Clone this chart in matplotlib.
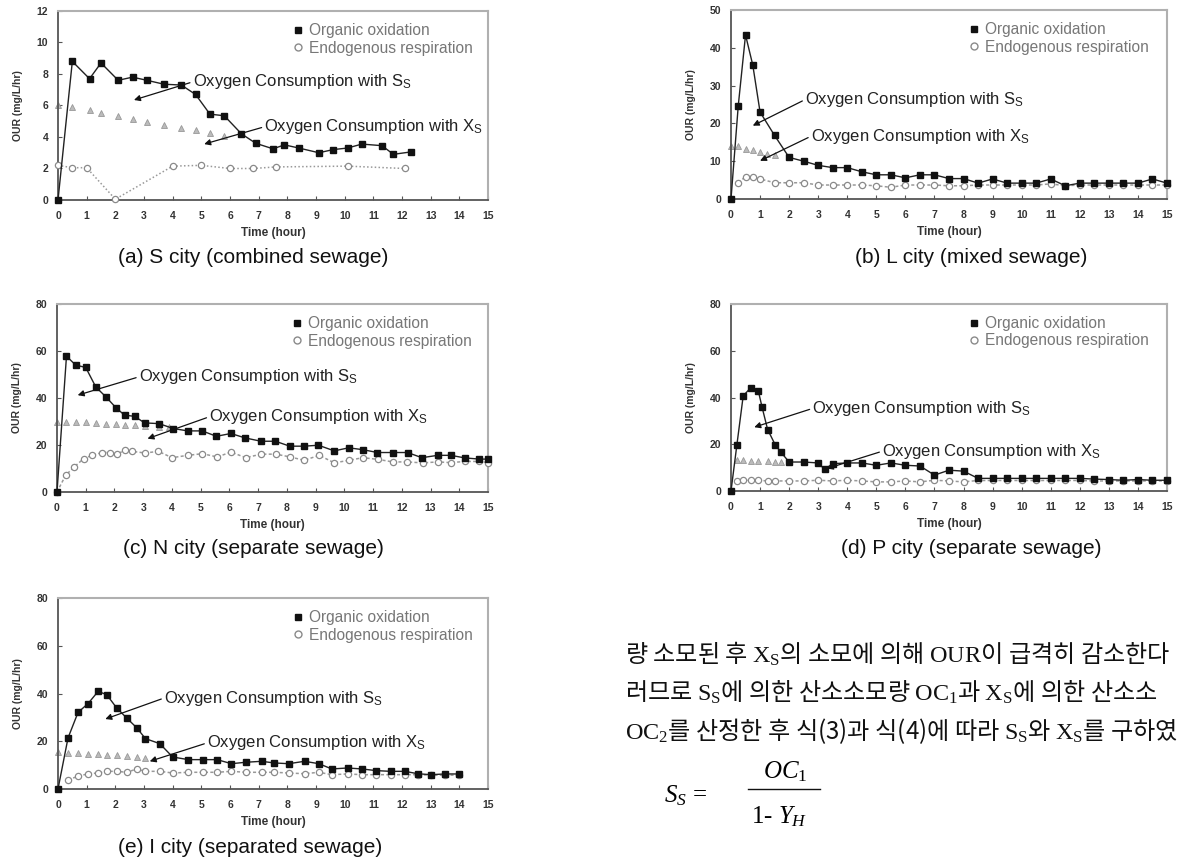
import matplotlib
matplotlib.use("Agg")
from matplotlib import pyplot
from matplotlib.lines import Line2D

pyplot.rcParams['font.family'] = ['Liberation Sans', 'DejaVu Sans']
pyplot.rcParams['mathtext.fontset'] = 'custom'
pyplot.rcParams['mathtext.rm'] = 'Liberation Serif'
pyplot.rcParams['mathtext.it'] = 'Liberation Serif:italic'
pyplot.rcParams['mathtext.bf'] = 'Liberation Serif:bold'
pyplot.rcParams['mathtext.sf'] = 'Liberation Sans'

W, H = 1177, 863

# ---- data: (a) S city ----
a_org_t = [0, 0.5, 1.1, 1.5, 2.1, 2.6, 3.1, 3.7, 4.3, 4.8, 5.3, 5.8, 6.4, 6.9,
           7.5, 7.9, 8.4, 9.1, 9.6, 10.1, 10.6, 11.3, 11.7, 12.3]
a_org = [0, 8.8, 7.7, 8.7, 7.6, 7.8, 7.6, 7.35, 7.3, 6.7, 5.45, 5.35, 4.2, 3.6,
         3.25, 3.5, 3.3, 3.0, 3.2, 3.3, 3.55, 3.45, 2.9, 3.05]
a_end_t = [0, 0.5, 1.0, 2.0, 4.0, 5.0, 6.0, 6.8, 7.6, 10.1, 12.1]
a_end = [2.2, 2.05, 2.05, 0.05, 2.15, 2.2, 2.0, 2.0, 2.1, 2.15, 2.0]
a_tri_t = [0, 0.5, 1.1, 1.5, 2.1, 2.6, 3.1, 3.7, 4.3, 4.8, 5.3, 5.8]
a_tri = [6.0, 5.9, 5.7, 5.55, 5.35, 5.15, 4.95, 4.75, 4.55, 4.45, 4.25, 4.05]

# ---- (b) L city ----
b_org_t = [0, 0.25, 0.5, 0.75, 1.0, 1.5, 2.0, 2.5, 3.0, 3.5, 4.0, 4.5, 5.0, 5.5,
           6.0, 6.5, 7.0, 7.5, 8.0, 8.5, 9.0, 9.5, 10.0, 10.5, 11.0, 11.5, 12.0,
           12.5, 13.0, 13.5, 14.0, 14.5, 15.0]
b_org = [0, 24.7, 43.4, 35.4, 23.0, 16.8, 11.0, 10.0, 8.9, 8.3, 8.3, 7.2, 6.4, 6.4,
         5.6, 6.4, 6.4, 5.4, 5.4, 4.2, 5.3, 4.2, 4.2, 4.2, 5.3, 3.5, 4.2,
         4.2, 4.2, 4.2, 4.2, 5.3, 4.2]
b_end_t = [0.25, 0.5, 0.75, 1.0, 1.5, 2.0, 2.5, 3.0, 3.5, 4.0, 4.5, 5.0, 5.5,
           6.0, 6.5, 7.0, 7.5, 8.0, 8.5, 9.0, 9.5, 10.0, 10.5, 11.0, 11.5, 12.0,
           12.5, 13.0, 13.5, 14.0, 14.5, 15.0]
b_end = [4.3, 5.9, 5.9, 5.3, 4.3, 4.3, 4.3, 3.7, 3.7, 3.7, 3.7, 3.5, 3.1,
         3.7, 3.7, 3.7, 3.5, 3.5, 3.7, 3.7, 3.7, 3.7, 3.7, 4.0, 3.5, 3.7,
         3.7, 3.7, 3.7, 3.7, 3.7, 3.7]
b_tri_t = [0, 0.25, 0.5, 0.75, 1.0, 1.25, 1.5]
b_tri = [13.9, 13.9, 13.3, 13.0, 12.4, 12.0, 11.6]

# ---- (c) N city ----
c_org_t = [0, 0.33, 0.65, 1.0, 1.35, 1.7, 2.05, 2.35, 2.7, 3.05, 3.55, 4.05, 4.55,
           5.05, 5.55, 6.05, 6.55, 7.1, 7.6, 8.1, 8.6, 9.1, 9.65, 10.15, 10.65,
           11.15, 11.7, 12.2, 12.7, 13.25, 13.7, 14.2, 14.7, 15.0]
c_org = [0, 57.8, 54, 53, 44.7, 40.5, 35.9, 32.7, 32.2, 29.4, 29.1, 27.0, 26.0,
         26.0, 23.7, 24.9, 23.0, 21.6, 21.6, 19.5, 19.5, 19.9, 17.5, 18.8, 18.0,
         16.8, 16.8, 16.8, 14.6, 15.6, 15.6, 14.5, 14.0, 14.0]
c_end_t = [0, 0.3, 0.6, 0.93, 1.22, 1.57, 1.84, 2.1, 2.35, 2.6, 3.07, 3.53, 4.0,
           4.55, 5.06, 5.58, 6.05, 6.57, 7.1, 7.62, 8.12, 8.6, 9.13, 9.65, 10.17,
           10.64, 11.16, 11.69, 12.17, 12.73, 13.26, 13.7, 14.2, 14.7, 15.0]
c_end = [0, 7.1, 10.7, 14.2, 15.6, 16.8, 16.8, 16.1, 17.8, 17.3, 16.6, 17.3, 14.6,
         15.6, 16.3, 14.9, 17.0, 14.6, 16.1, 16.1, 14.9, 13.5, 15.6, 12.4, 13.5,
         14.6, 13.9, 12.8, 12.8, 12.4, 12.8, 12.5, 13.0, 13.0, 12.5]
c_tri_t = [0, 0.33, 0.65, 1.0, 1.35, 1.7, 2.05, 2.35, 2.7, 3.05, 3.55, 3.9]
c_tri = [30, 30, 29.8, 29.6, 29.4, 29.1, 28.9, 28.6, 28.3, 28.0, 27.8, 27.5]

# ---- (d) P city ----
d_org_t = [0, 0.2, 0.42, 0.68, 0.94, 1.07, 1.26, 1.52, 1.71, 2.0, 2.5, 3.0, 3.22,
           3.5, 4.0, 4.5, 5.0, 5.5, 6.0, 6.5, 7.0, 7.5, 8.0, 8.5, 9.0, 9.5, 10.0,
           10.5, 11.0, 11.5, 12.0, 12.5, 13.0, 13.5, 14.0, 14.5, 15.0]
d_org = [0, 19.5, 40.7, 44.2, 42.8, 35.8, 26.3, 19.8, 16.7, 12.4, 12.4, 12.0, 9.3,
         11.7, 12.0, 12.0, 11.0, 12.0, 11.0, 10.7, 6.8, 8.9, 8.5, 5.4, 5.4, 5.4, 5.4,
         5.4, 5.4, 5.4, 5.4, 5.1, 4.9, 4.6, 4.9, 4.6, 4.6]
d_end_t = [0.2, 0.42, 0.68, 0.94, 1.26, 1.52, 2.0, 2.5, 3.0, 3.5, 4.0, 4.5, 5.0,
           5.5, 6.0, 6.5, 7.0, 7.5, 8.0, 8.5, 9.0, 9.5, 10.0, 10.5, 11.0, 11.5,
           12.0, 12.5, 13.0, 13.5, 14.0, 14.5, 15.0]
d_end = [4.2, 4.6, 4.6, 4.6, 4.3, 4.3, 4.3, 4.3, 4.6, 4.3, 4.6, 4.3, 3.9,
         3.9, 4.3, 3.9, 4.6, 4.3, 3.9, 4.5, 4.5, 4.5, 4.5, 4.5, 4.5, 4.5,
         4.5, 4.3, 4.3, 4.3, 4.3, 4.3, 4.3]
d_tri_t = [0.2, 0.42, 0.68, 0.94, 1.26, 1.52, 1.71]
d_tri = [13.1, 13.1, 12.9, 12.9, 12.8, 12.6, 12.4]

# ---- (e) I city ----
e_org_t = [0, 0.35, 0.7, 1.05, 1.4, 1.7, 2.05, 2.4, 2.75, 3.05, 3.55, 4.0, 4.55,
           5.05, 5.55, 6.05, 6.55, 7.1, 7.55, 8.05, 8.6, 9.1, 9.55, 10.1, 10.6,
           11.1, 11.6, 12.1, 12.55, 13.0, 13.5, 14.0]
e_org = [0, 21.4, 32.1, 35.8, 40.9, 39.5, 33.9, 29.7, 25.6, 21.1, 19.0, 13.4, 12.3,
         12.3, 12.3, 10.6, 11.2, 11.6, 10.9, 10.6, 11.6, 10.6, 8.4, 8.8, 8.4,
         7.7, 7.4, 7.4, 6.4, 6.0, 6.3, 6.3]
e_end_t = [0.35, 0.7, 1.05, 1.4, 1.7, 2.05, 2.4, 2.75, 3.05, 3.55, 4.0, 4.55,
           5.05, 5.55, 6.05, 6.55, 7.1, 7.55, 8.05, 8.6, 9.1, 9.55, 10.1, 10.6,
           11.1, 11.6, 12.1, 12.55, 13.0, 13.5, 14.0]
e_end = [3.9, 5.3, 6.4, 6.7, 7.4, 7.4, 7.0, 8.4, 7.4, 7.4, 6.7, 7.0,
         7.0, 7.0, 7.4, 7.0, 7.0, 7.0, 6.7, 6.4, 7.0, 6.0, 6.3, 6.0,
         6.0, 6.0, 6.0, 6.0, 5.8, 5.8, 5.8]
e_tri_t = [0, 0.35, 0.7, 1.05, 1.4, 1.7, 2.05, 2.4, 2.75, 3.05]
e_tri = [15.4, 15.2, 15.0, 14.8, 14.6, 14.4, 14.2, 14.0, 13.6, 13.0]

captions = ["(a) S city (combined sewage)", "(b) L city (mixed sewage)",
            "(c) N city (separate sewage)", "(d) P city (separate sewage)",
            "(e) I city (separated sewage)"]
y_max = [12, 50, 80, 80, 80]
y_step = [2, 10, 20, 20, 20]
legend_labels = ["Organic oxidation", "Endogenous respiration"]
note_s = r"Oxygen Consumption with S$_\mathsf{S}$"
note_x = r"Oxygen Consumption with X$_\mathsf{S}$"

series = [
    (a_org_t, a_org, a_end_t, a_end, a_tri_t, a_tri),
    (b_org_t, b_org, b_end_t, b_end, b_tri_t, b_tri),
    (c_org_t, c_org, c_end_t, c_end, c_tri_t, c_tri),
    (d_org_t, d_org, d_end_t, d_end, d_tri_t, d_tri),
    (e_org_t, e_org, e_end_t, e_end, e_tri_t, e_tri),
]

# layout (pixels): axes box left, top, right, bottom
boxes = [(58, 11, 488, 200), (731, 10, 1167, 199),
         (57, 304, 488, 492), (731, 304, 1167, 491),
         (58, 598, 488, 789)]
caption_xy = [(253, 257), (971, 257), (253, 548), (971, 548), (250, 847)]
# annotation (text start, arrow tip) in data coords
notes = [
    ((4.7, 7.5), (2.65, 6.35), (7.2, 4.65), (5.1, 3.55)),
    ((2.55, 26.3), (0.75, 19.4), (2.75, 16.6), (1.0, 10.1)),
    ((2.85, 49.0), (0.72, 41.2), (5.3, 32.0), (3.15, 22.7)),
    ((2.8, 35.3), (0.8, 27.3), (5.2, 17.0), (3.3, 9.6)),
    ((3.7, 38.1), (1.65, 29.3), (5.2, 19.3), (3.2, 11.6)),
]
end_styles = [(0, (1, 1.5)), (0, (2, 1.5)), (0, (2, 1.5)), (0, (2, 1.5)), (0, (2, 1.5))]

fig = pyplot.figure(figsize=(W/100, H/100), dpi=100)

for i, (ot, ov, et, ev, tt, tv) in enumerate(series):
    l, t, r, b = boxes[i]
    ax = fig.add_axes([l/W, 1 - b/H, (r - l)/W, (b - t)/H])
    ax.plot(tt, tv, '^', ls='none', color='#999999', ms=4, mfc='#bbbbbb',
            mec='#999999', mew=0.6, clip_on=False, zorder=2)
    ax.plot(et, ev, 'o', ls=end_styles[i], color='#999999', lw=1.1, ms=4.5,
            mfc='white', mec='#8a8a8a', mew=0.9, clip_on=False, zorder=3)
    ax.plot(ot, ov, 's-', color='#222222', lw=1.0, ms=4.5, mfc='#111111',
            mec='#111111', clip_on=False, zorder=4)
    ax.set_xlim(0, 15)
    ax.set_ylim(0, y_max[i])
    ax.set_xticks(range(0, 16))
    ax.set_yticks(range(0, y_max[i] + 1, y_step[i]))
    ax.tick_params(direction='in', length=3, width=0.8, color='#555555',
                   labelsize=7.5, labelcolor='#333333')
    ax.tick_params(axis='x', pad=8)
    ax.tick_params(axis='y', pad=7)
    for lab in ax.get_xticklabels() + ax.get_yticklabels():
        lab.set_fontweight('bold')
    for side in ('left', 'bottom'):
        ax.spines[side].set_color('#555555')
        ax.spines[side].set_linewidth(1.3)
    for side in ('top', 'right'):
        ax.spines[side].set_color('#b0b0b0')
        ax.spines[side].set_linewidth(1.5)
    ax.set_xlabel("Time (hour)", fontsize=8.5, fontweight='bold', color='#333333',
                  labelpad=4)
    ax.set_ylabel("OUR (mg/L/hr)", fontsize=7.5, fontweight='bold', color='#333333',
                  labelpad=10)

    handles = [Line2D([], [], ls='none', marker='s', ms=5, mfc='#111111', mec='#111111'),
               Line2D([], [], ls='none', marker='o', ms=5, mfc='white', mec='#8a8a8a')]
    ax.legend(handles, legend_labels, loc='upper left', bbox_to_anchor=(0.545, 0.935),
              frameon=False, fontsize=11.2, labelcolor='#777777', handlelength=0.7,
              handletextpad=0.35, labelspacing=0.15, borderpad=0, borderaxespad=0)

    s_txt, s_tip, x_txt, x_tip = notes[i]
    arrow = dict(arrowstyle='-|>', color='#111111', lw=0.9, mutation_scale=9,
                 shrinkA=0, shrinkB=0, relpos=(0, 0.5))
    ax.annotate(note_s, xy=s_tip, xytext=s_txt, fontsize=12, color='#222222',
                ha='left', va='center', arrowprops=arrow, zorder=6)
    ax.annotate(note_x, xy=x_tip, xytext=x_txt, fontsize=12, color='#222222',
                ha='left', va='center', arrowprops=arrow, zorder=6)

    cx, cy = caption_xy[i]
    fig.text(cx/W, 1 - cy/H, captions[i], fontsize=15, ha='center', va='center',
             color='#111111')

# body text on the lower right (only the part that is visible on the page)
kr_lines = [
    r"량 소모된 후 $\mathrm{X_S}$의 소모에 의해 $\mathrm{OUR}$이 급격히 감소한다",
    r"러므로 $\mathrm{S_S}$에 의한 산소소모량 $\mathrm{OC_1}$과 $\mathrm{X_S}$에 의한 산소소",
    r"$\mathrm{OC_2}$를 산정한 후 식(3)과 식(4)에 따라 $\mathrm{S_S}$와 $\mathrm{X_S}$를 구하였",
]
kr_y = [655, 693, 731]
for line, y in zip(kr_lines, kr_y):
    fig.text(625/W, 1 - y/H, line, fontsize=17.4, family='Noto Sans CJK KR',
             ha='left', va='center', color='#111111')

fig.text(664/W, 1 - 796/H, r"$S_S$ =", fontsize=18, family='Liberation Serif',
         ha='left', va='center')
fig.text(785/W, 1 - 772/H, r"$OC_1$", fontsize=18, family='Liberation Serif',
         ha='center', va='center')
fig.text(779/W, 1 - 817/H, r"1- $Y_H$", fontsize=18, family='Liberation Serif',
         ha='center', va='center')
fig.add_artist(Line2D([748/W, 820/W], [1 - 789/H, 1 - 789/H], transform=fig.transFigure,
                      color='#111111', lw=1.0))

fig.savefig("out.png", dpi=100)
